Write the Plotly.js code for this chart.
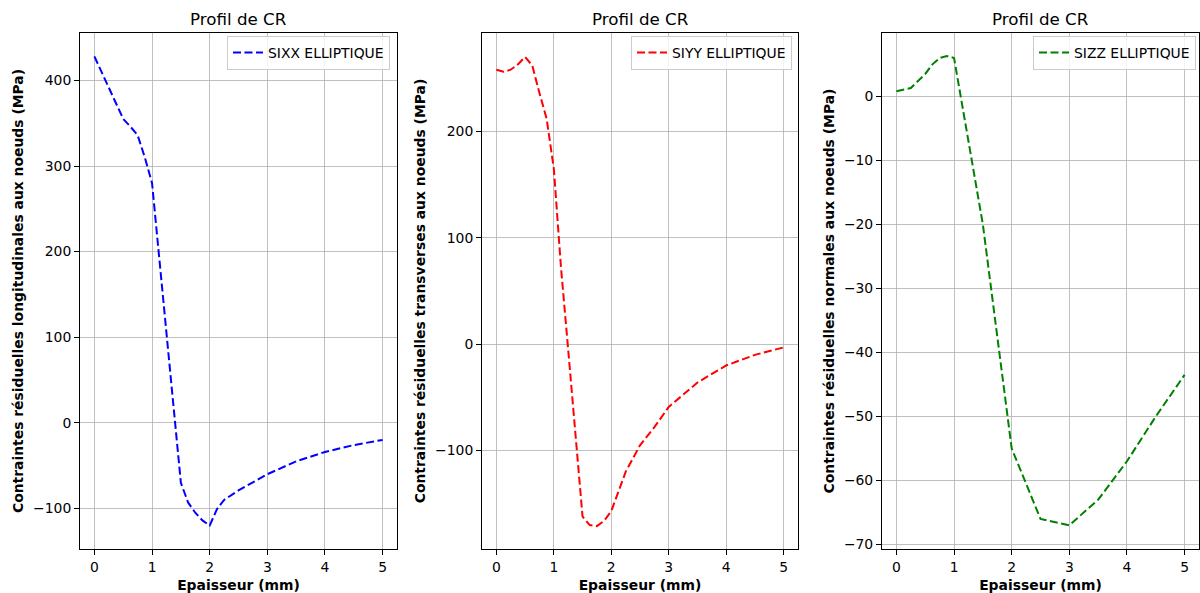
<!DOCTYPE html>
<html>
<head>
<meta charset="utf-8">
<script src="https://cdn.plot.ly/plotly-3.0.1.min.js"></script>
<style>html,body{margin:0;padding:0;background:#fff;}#chart{width:1200px;height:593px;}</style>
</head>
<body>
<div id="chart"></div>
<script>
// Data
const xSIXX = [0, 0.25, 0.5, 0.625, 0.75, 0.875, 1, 1.5, 1.625, 1.75, 1.875, 2, 2.125, 2.25, 2.5, 3, 3.5, 4, 4.5, 5];
const ySIXX = [428, 392, 355, 346, 336, 310, 280, -70, -93, -105, -114, -120, -101, -90, -79, -60, -45, -34, -26, -20];

const xSIYY = [0, 0.125, 0.25, 0.375, 0.5, 0.625, 0.75, 0.875, 1, 1.125, 1.25, 1.375, 1.5, 1.625, 1.75, 1.875, 2, 2.25, 2.5, 2.75, 3, 3.5, 4, 4.5, 5];
const ySIYY = [258, 256, 258, 263, 270, 262, 236, 212, 165, 72, -5, -85, -162, -170, -171, -166, -157, -120, -95, -78, -59, -36, -20, -10, -3];

const xSIZZ = [0, 0.25, 0.5, 0.625, 0.75, 0.875, 1, 1.5, 2, 2.25, 2.5, 3, 3.5, 4, 4.5, 5];
const ySIZZ = [0.8, 1.3, 3.5, 5.0, 6.0, 6.3, 6.0, -20, -55, -60.5, -66, -67, -63, -57, -50, -43.5];

const names = ["SIXX ELLIPTIQUE", "SIYY ELLIPTIQUE", "SIZZ ELLIPTIQUE"];
const panelTitle = "Profil de CR";
const xTitle = "Epaisseur (mm)";
const yTitles = [
  "Contraintes résiduelles longitudinales aux noeuds (MPa)",
  "Contraintes résiduelles transverses aux noeuds (MPa)",
  "Contraintes résiduelles normales aux noeuds (MPa)"
];
const colors = ["#0000ff", "#ff0000", "#008000"];

const FONT = "DejaVu Sans, sans-serif";
const W = 1200, H = 593;

const traces = [
  {x: xSIXX, y: ySIXX, xaxis: 'x', yaxis: 'y', legend: 'legend'},
  {x: xSIYY, y: ySIYY, xaxis: 'x2', yaxis: 'y2', legend: 'legend2'},
  {x: xSIZZ, y: ySIZZ, xaxis: 'x3', yaxis: 'y3', legend: 'legend3'}
].map((t, i) => Object.assign(t, {
  type: 'scatter', mode: 'lines', name: names[i],
  line: {color: colors[i], width: 2, dash: '8px,3.5px'}
}));

const domainsX = [[80/W, 397/W], [482/W, 798/W], [882/W, 1199/W]];
const yDom = [(H-549)/H, (H-33)/H];
const yRanges = [[-147.4, 455.4], [-192.5, 292.5], [-70.7, 9.9]];
const yDtick = [100, 100, 10];
const legendRight = [390, 792, 1196];

function xAxis(i) {
  return {
    domain: domainsX[i], anchor: i === 0 ? 'y' : 'y' + (i+1),
    range: [-0.25, 5.25], dtick: 1, tick0: 0,
    showgrid: true, gridcolor: '#b0b0b0', gridwidth: 0.8,
    zeroline: false, showline: true, linecolor: '#000', linewidth: 1, mirror: true,
    ticks: 'outside', ticklen: 5, tickwidth: 1, tickcolor: '#000',
    tickfont: {family: FONT, size: 13.9, color: '#000'},
    automargin: false,
    title: {text: '<b>' + xTitle + '</b>', font: {family: FONT, size: 13.9, color: '#000'}, standoff: 8}
  };
}
function yAxis(i) {
  return {
    domain: yDom, anchor: i === 0 ? 'x' : 'x' + (i+1),
    range: yRanges[i], dtick: yDtick[i], tick0: 0,
    showgrid: true, gridcolor: '#b0b0b0', gridwidth: 0.8,
    zeroline: false, showline: true, linecolor: '#000', linewidth: 1, mirror: true,
    ticks: 'outside', ticklen: 5, tickwidth: 1, tickcolor: '#000',
    tickfont: {family: FONT, size: 13.9, color: '#000'},
    automargin: false,
    title: {text: '<b>' + yTitles[i] + '</b>', font: {family: FONT, size: 13.9, color: '#000'}, standoff: 6}
  };
}
function legend(i) {
  return {
    x: legendRight[i]/W, xanchor: 'right', xref: 'paper',
    y: (H-36)/H, yanchor: 'top', yref: 'paper',
    bgcolor: 'rgba(255,255,255,0.8)', bordercolor: '#cccccc', borderwidth: 1,
    font: {family: FONT, size: 13.9, color: '#000'},
    itemwidth: 30, tracegroupgap: 0
  };
}

const layout = {
  width: W, height: H,
  margin: {l: 0, r: 0, t: 0, b: 0},
  paper_bgcolor: '#fff', plot_bgcolor: '#fff',
  showlegend: true,
  xaxis: xAxis(0), xaxis2: xAxis(1), xaxis3: xAxis(2),
  yaxis: yAxis(0), yaxis2: yAxis(1), yaxis3: yAxis(2),
  legend: legend(0), legend2: legend(1), legend3: legend(2),
  annotations: domainsX.map(d => ({
    text: panelTitle, xref: 'paper', yref: 'paper',
    x: (d[0]+d[1])/2, y: (H-19)/H, xanchor: 'center', yanchor: 'middle',
    showarrow: false, font: {family: FONT, size: 16.7, color: '#000'}
  }))
};

Plotly.newPlot('chart', traces, layout, {staticPlot: true, displayModeBar: false});
</script>
</body>
</html>
